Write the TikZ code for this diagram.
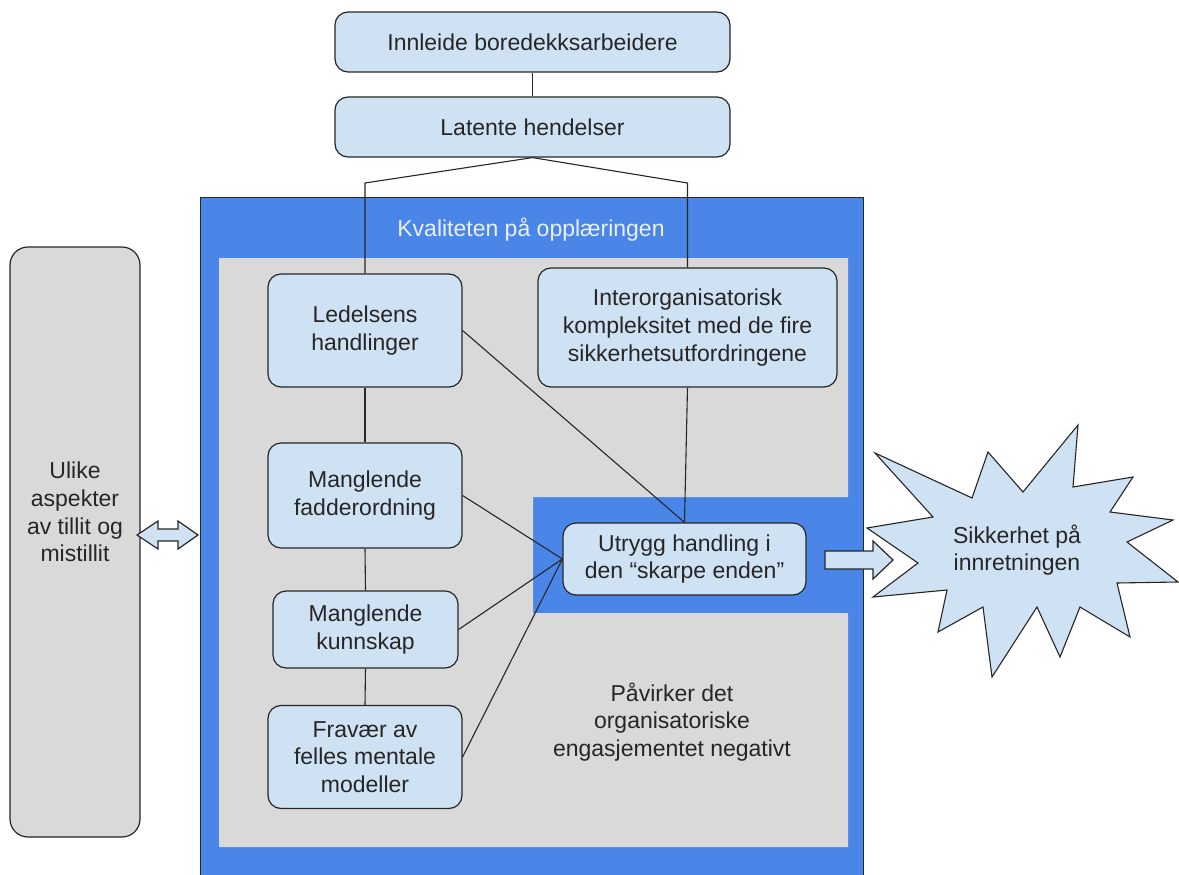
\documentclass[tikz,border=0pt]{standalone}
\usepackage{fontspec}
\setmainfont{Liberation Sans}
\definecolor{bandblue}{HTML}{4A86E8}
\definecolor{paleblue}{HTML}{CFE2F3}
\definecolor{panelgray}{HTML}{D9D9D9}
\definecolor{inkline}{HTML}{262626}
\definecolor{titletext}{HTML}{EAF0FC}
\tikzset{
  boxnode/.style={draw=inkline, line width=1.2pt, fill=paleblue, rounded corners=13pt,
    inner sep=0pt, align=center, text=inkline,
    font=\fontsize{23}{27.6}\selectfont},
  link/.style={draw=inkline, line width=1.1pt},
  plaintext/.style={inner sep=0pt, align=center, text=inkline,
    font=\fontsize{23}{27.6}\selectfont},
  fatarrow/.style={draw=inkline, line width=1.2pt, fill=paleblue, line join=miter}
}
\begin{document}
\begin{tikzpicture}[x=1pt,y=-1pt]
\useasboundingbox (0,0) rectangle (1179,875);
\fill[white] (0,0) rectangle (1179,875);

% outer training-quality frame and its grey panel with a notch on the right
\draw[fill=bandblue, draw=inkline, line width=1pt] (200,197) rectangle (863,880);
\fill[panelgray] (219,258) -- (848,258) -- (848,497) -- (533,497) -- (533,613)
  -- (848,613) -- (848,847) -- (219,847) -- cycle;
\node[plaintext, text=titletext] (kval) at (531,230) {Kvaliteten på opplæringen};

% top chain
\node[boxnode, minimum width=395pt, minimum height=60pt] (innl) at (532.5,42) {Innleide boredekksarbeidere};
\node[boxnode, minimum width=395pt, minimum height=60pt] (lat) at (532.5,127) {Latente hendelser};

% left column of factors
\node[boxnode, minimum width=194pt, minimum height=113pt] (led) at (365,330.5) {Ledelsens\\handlinger};
\node[boxnode, minimum width=194pt, minimum height=105pt] (fad) at (365,495.5) {Manglende\\fadderordning};
\node[boxnode, minimum width=185pt, minimum height=77pt] (kun) at (365.5,629.5) {Manglende\\kunnskap};
\node[boxnode, minimum width=194pt, minimum height=103pt] (fra) at (365,757) {Fravær av\\felles mentale\\modeller};

% right side
\node[boxnode, minimum width=299pt, minimum height=119pt] (inter) at (687.5,327.5) {Interorganisatorisk\\kompleksitet med de fire\\sikkerhetsutfordringene};
\node[boxnode, minimum width=243pt, minimum height=72pt] (utr) at (684.5,559) {Utrygg handling i\\den “skarpe enden”};
\node[plaintext] (pav) at (672,722) {Påvirker det\\organisatoriske\\engasjementet negativt};

% trust panel on the far left
\node[draw=inkline, line width=1.2pt, fill=panelgray, rounded corners=18pt,
  minimum width=130pt, minimum height=590pt, inner sep=0pt] (tillit) at (75,542) {};
\node[plaintext] (tillittxt) at (75,512) {Ulike\\aspekter\\av tillit og\\mistillit};

% connectors
\draw[link] (innl.south) -- (lat.north);
\draw[link] (lat.south) -- (led.north |- 0,183) -- (led.north);
\draw[link] (lat.south) -- (inter.north |- 0,183) -- (inter.north);
\draw[link] (led.south) -- (fad.north);
\draw[link] (fad.south) -- (kun.north);
\draw[link] (kun.south) -- (fra.north);
\draw[link] (led.east) -- (utr.north);
\draw[link] (inter.south) -- (utr.north);
\draw[link] (fad.east) -- (utr.west);
\draw[link] (kun.east) -- (utr.west);
\draw[link] (fra.east) -- (utr.west);

% safety starburst
\draw[fill=paleblue, draw=inkline, line width=1.1pt, line join=miter]
  (875,453) -- (972,498) -- (988,452) -- (1023,492) -- (1078,425) -- (1073,487)
  -- (1133,477) -- (1110,512) -- (1173,520) -- (1127,542) -- (1178,582)
  -- (1117,583) -- (1130,637) -- (1080,607) -- (1060,657) -- (1037,607)
  -- (992,677) -- (983,607) -- (938,632) -- (947,590) -- (873,597)
  -- (918,563) -- (867,528) -- (933,517) -- cycle;
\node[plaintext] (sikk) at (1017,550) {Sikkerhet på\\innretningen};

% block arrows
\draw[fatarrow] (137,535) -- (158,521) -- (158,529) -- (178,529) -- (178,521)
  -- (198,535) -- (178,549) -- (178,541) -- (158,541) -- (158,549) -- cycle;
\draw[fatarrow] (825,551) -- (873,551) -- (873,541) -- (893,560) -- (873,579)
  -- (873,569) -- (825,569) -- cycle;
\end{tikzpicture}
\end{document}
